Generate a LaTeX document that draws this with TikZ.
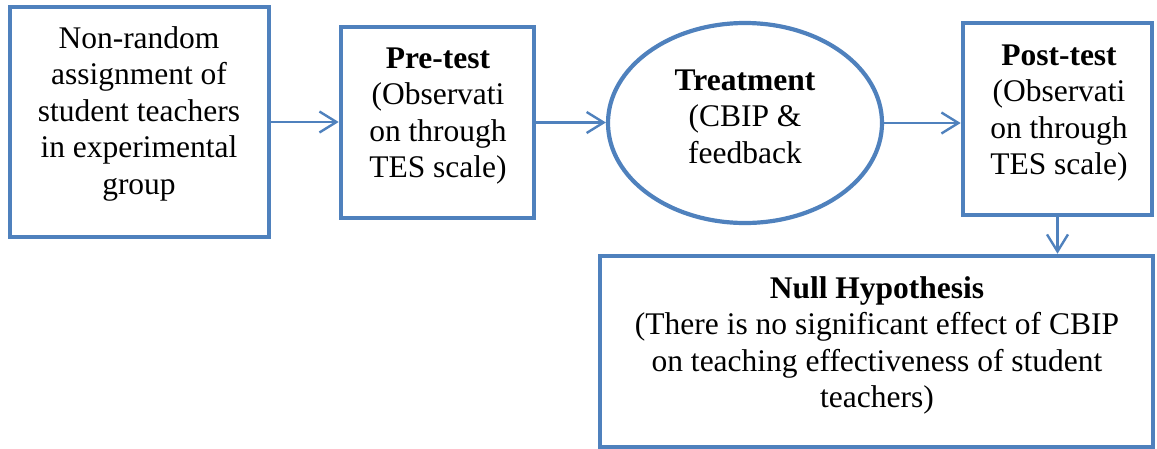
\documentclass[tikz,border=0pt]{standalone}
\usepackage{fontspec}
\setmainfont{Liberation Serif}
\usetikzlibrary{shapes.geometric,arrows.meta}
\definecolor{ofblue}{HTML}{4F81BD}
\begin{document}
\begin{tikzpicture}[x=1pt,y=-1pt,
  boxnode/.style={draw=ofblue,line width=4.6pt,rectangle,inner sep=0pt,minimum width=#1},
  ellnode/.style={draw=ofblue,line width=4.2pt,ellipse,inner sep=0pt},
  txt/.style={anchor=base,inner sep=0pt,font=\fontsize{31.5}{36.6}\selectfont},
  conn/.style={draw=ofblue,line width=2.4pt,-{Straight Barb[length=17pt,width=21pt,line width=2.4pt]}}
]
\useasboundingbox (0,0) rectangle (1157,448);
\node[boxnode=259pt,minimum height=230pt] (b1) at (139.5,122) {};
\node[boxnode=193pt,minimum height=191pt] (b2) at (437.5,122.5) {};
\node[ellnode,minimum width=274pt,minimum height=200pt] (e) at (745,123) {};
\node[boxnode=189pt,minimum height=192pt] (b4) at (1057.5,119) {};
\node[boxnode=553pt,minimum height=191pt] (b5) at (876.5,351.5) {};

\node[txt] (t1) at (139,48) {\begin{tabular}[t]{@{}c@{}}Non-random\\assignment of\\student teachers\\in experimental\\group\end{tabular}};
\node[txt] (t2) at (438,68) {\begin{tabular}[t]{@{}c@{}}\textbf{Pre-test}\\(Observati\\on through\\TES scale)\end{tabular}};
\node[txt] (t3) at (745,90) {\begin{tabular}[t]{@{}c@{}}\textbf{Treatment}\\(CBIP \&\\feedback\end{tabular}};
\node[txt] (t4) at (1059,65) {\begin{tabular}[t]{@{}c@{}}\textbf{Post-test}\\(Observati\\on through\\TES scale)\end{tabular}};
\node[txt] (t5) at (877,298) {\begin{tabular}[t]{@{}c@{}}\textbf{Null Hypothesis}\\(There is no significant effect of CBIP\\on teaching effectiveness of student\\teachers)\end{tabular}};

\draw[conn] (b1.east) -- (b1.east -| b2.west);
\draw[conn] (b2.east) -- (b2.east -| e.west);
\draw[conn] (e.east) -- (e.east -| b4.west);
\draw[conn] (b4.south) -- (b4.south |- b5.north);
\end{tikzpicture}
\end{document}
